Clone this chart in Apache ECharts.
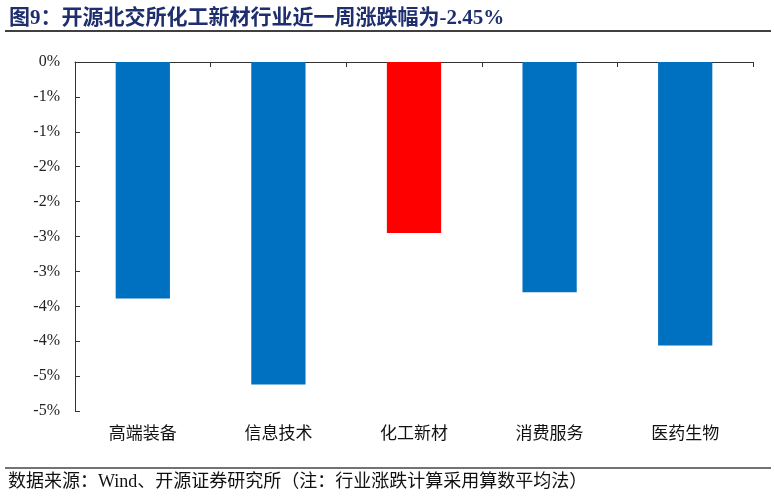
<!DOCTYPE html>
<html style="height: 100%">
<head>
	<meta charset="utf-8">
	<script type="text/javascript" src="https://cdn.jsdelivr.net/npm/echarts@6/dist/echarts.min.js"></script>
	<style>
	body{
		margin:0;
		background:#fff;
	}
	</style>
</head>
<body style="height: 100%; margin: 0">
	<div id="container" style="width:774px; height:499px"></div>
	<script>
	// 行业数据
	var categories = ['高端装备', '信息技术', '化工新材', '消费服务', '医药生物'];
	var values = [-3.39, -4.62, -2.45, -3.30, -4.06];
	var highlight = '化工新材';

	var chart = echarts.init(document.getElementById('container'));

	var barData = [];
	for (var i = 0; i < categories.length; i++) {
		barData.push({
			value: values[i],
			itemStyle: {color: categories[i] === highlight ? '#FF0000' : '#0070C0'}
		});
	}

	var option = {
		animation: false,
		title: {
			text: '图9：开源北交所化工新材行业近一周涨跌幅为-2.45%',
			left: 4,
			top: 3,
			textStyle: {
				color: '#1F2F6E',
				fontSize: 21,
				fontWeight: 'bold',
				fontFamily: '"Liberation Serif", "Noto Sans CJK SC", serif'
			}
		},
		graphic: [
			{type: 'line', shape: {x1: 5, y1: 31, x2: 771, y2: 31}, style: {stroke: '#000', lineWidth: 1.5}},
			{type: 'line', shape: {x1: 5, y1: 468, x2: 771, y2: 468}, style: {stroke: '#444', lineWidth: 1.5}},
			{
				type: 'text', left: 8, top: 473,
				style: {
					text: '数据来源：Wind、开源证券研究所（注：行业涨跌计算采用算数平均法）',
					fill: '#111',
					font: '18px "Liberation Serif", "Noto Sans CJK SC", serif'
				}
			}
		],
		grid: {left: 75, right: 21, top: 62, bottom: 88},
		xAxis: [
			{
				type: 'category',
				data: categories,
				position: 'top',
				axisLine: {lineStyle: {color: '#333', width: 1}},
				axisTick: {show: true, inside: true, length: 5, lineStyle: {color: '#333'}},
				axisLabel: {show: false}
			},
			{
				// 底部类目标签
				type: 'category',
				data: categories,
				position: 'bottom',
				axisLine: {show: false},
				axisTick: {show: false},
				axisLabel: {
					color: '#111',
					fontSize: 17,
					margin: 13,
					fontFamily: '"Noto Sans CJK SC", serif'
				}
			}
		],
		yAxis: {
			type: 'value',
			min: -5,
			max: 0,
			interval: 0.5,
			splitLine: {show: false},
			axisLine: {show: true, lineStyle: {color: '#333', width: 1}},
			axisTick: {show: true, inside: true, length: 5, lineStyle: {color: '#333'}},
			axisLabel: {
				color: '#222',
				fontSize: 16,
				margin: 15,
				fontFamily: '"Liberation Serif", serif',
				formatter: function (v) {
					var r = Math.round(Math.abs(v));
					return (v < 0 && r > 0 ? '-' : '') + r + '%';
				}
			}
		},
		series: [
			{
				type: 'bar',
				data: barData,
				barWidth: '40%'
			}
		]
	};

	chart.setOption(option);
	</script>
</body>
</html>
